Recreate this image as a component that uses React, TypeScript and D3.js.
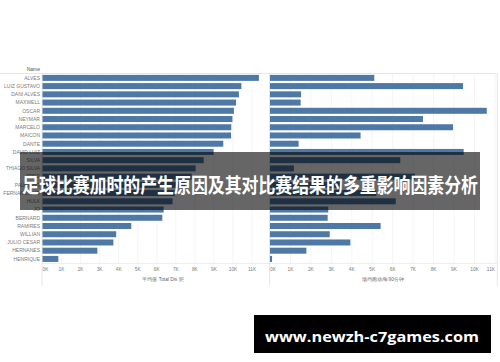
import React from "react";
import * as d3 from "d3";

const names = [
  "ALVES", "LUIZ GUSTAVO", "DANI ALVES", "MAXWELL", "OSCAR", "NEYMAR", "MARCELO",
  "MAICON", "DANTE", "DAVID LUIZ", "SILVA", "THIAGO SILVA", "FRED", "PAULINHO",
  "FERNANDINHO", "HULK", "JO", "BERNARD", "RAMIRES", "WILLIAN", "JULIO CESAR",
  "HERNANES", "HENRIQUE",
];
const totalDistance = [
  11.36, 10.44, 10.31, 10.16, 10.05, 9.97, 9.91, 9.9, 9.49, 8.98, 8.46, 8.04, 7.83,
  7.5, 6.94, 6.83, 6.36, 6.29, 4.66, 3.87, 3.72, 2.88, 0.83,
];
const per90Distance = [
  5.1, 9.44, 1.52, 1.5, 10.6, 7.48, 8.95, 4.43, 1.4, 9.47, 6.37, 1.17, 7.09, 3.5,
  5.2, 6.15, 2.85, 2.82, 5.41, 2.92, 3.93, 1.78, 0.1,
];
const tickValues = [0, 1, 2, 3, 4, 5, 6, 7, 8, 9, 10, 11];
const leftAxisTitle = "平均值 Total Dis 距";
const rightAxisTitle = "场均跑动/每90分钟";
const headerLabel = "Name";
const overlayTitle = "足球比赛加时的产生原因及其对比赛结果的多重影响因素分析";
const siteText = "www.newzh-c7games.com";

const W = 500;
const H = 362;
const BAR = "#4e79a7";
const GRID = "#ececec";
const LABEL = "#7a7a7a";

export default function App() {
  const y = d3.scaleBand<string>().domain(names).range([73.8, 263]).paddingInner(0.27).paddingOuter(0.13);
  const xl = d3.scaleLinear().domain([0, 1]).range([42.5, 61.55]);
  const xr = d3.scaleLinear().domain([0, 1]).range([270, 290.45]);
  const bh = y.bandwidth();
  const axisY = 263.5;

  return (
    <svg width={W} height={H} style={{ position: "absolute", left: 0, top: 0, background: "#fff" }}
      fontFamily="'Liberation Sans', Arial, sans-serif">
      <rect x={0} y={0} width={W} height={H} fill="#fff" />
      {/* header */}
      <text x={40} y={71} fontSize={5} textAnchor="end" fill="#555">{headerLabel}</text>
      <line x1={0} x2={497} y1={73.5} y2={73.5} stroke="#dcdcdc" strokeWidth={0.7} />
      {/* gridlines */}
      {tickValues.map((t) => (
        <line key={"gl" + t} x1={xl(t)} x2={xl(t)} y1={74} y2={axisY} stroke={GRID} strokeWidth={0.6} />
      ))}
      {tickValues.map((t) => (
        <line key={"gr" + t} x1={xr(t)} x2={xr(t)} y1={74} y2={axisY} stroke={GRID} strokeWidth={0.6} />
      ))}
      <line x1={497.3} x2={497.3} y1={73.5} y2={286} stroke="#dcdcdc" strokeWidth={0.7} />
      <line x1={42} x2={42} y1={73.5} y2={286} stroke="#dcdcdc" strokeWidth={0.7} />
      <line x1={269.5} x2={269.5} y1={73.5} y2={286} stroke="#dcdcdc" strokeWidth={0.7} />
      <line x1={42} x2={497} y1={axisY} y2={axisY} stroke="#e2e2e2" strokeWidth={0.6} />
      {/* row labels */}
      {names.map((n) => (
        <text key={"l" + n} x={40} y={(y(n) as number) + bh / 2 + 1.8} fontSize={5} textAnchor="end" fill={LABEL}>
          {n}
        </text>
      ))}
      {/* bars */}
      {names.map((n, i) => (
        <rect key={"bl" + n} x={xl(0)} y={y(n)} width={xl(totalDistance[i]) - xl(0)} height={bh} fill={BAR} />
      ))}
      {names.map((n, i) => (
        <rect key={"br" + n} x={xr(0)} y={y(n)} width={xr(per90Distance[i]) - xr(0)} height={bh} fill={BAR} />
      ))}
      {/* axes */}
      {tickValues.map((t) => (
        <text key={"tl" + t} x={t === 0 ? xl(t) + 3 : xl(t)} y={271} fontSize={4.8} textAnchor="middle" fill={LABEL}>
          {t + "K"}
        </text>
      ))}
      {tickValues.map((t) => (
        <text key={"tr" + t} x={t === 0 ? xr(t) + 3 : t === 11 ? xr(t) - 4 : xr(t)} y={271} fontSize={4.8} textAnchor="middle" fill={LABEL}>
          {t + "K"}
        </text>
      ))}
      <text x={163} y={281} fontSize={4.8} textAnchor="middle" fill="#666">{leftAxisTitle}</text>
      <text x={383} y={281} fontSize={4.8} textAnchor="middle" fill="#666">{rightAxisTitle}</text>
      {/* overlay band */}
      <rect x={20} y={152} width={460} height={58} fill="rgba(0,0,0,0.6)" />
      <text x={250} y={192.5} fontSize={20.5} fontWeight={700} textAnchor="middle" fill="#fff"
        fontFamily="'Noto Sans CJK SC', sans-serif" textLength={456} lengthAdjust="spacingAndGlyphs">
        {overlayTitle}
      </text>
      {/* site box */}
      <rect x={254} y={315} width={237} height={38} fill="#000" />
      <text x={372} y={342} fontSize={15} fontWeight={700} textAnchor="middle" fill="#fff"
        fontFamily="'Open Sans', 'DejaVu Sans', sans-serif" textLength={214} lengthAdjust="spacingAndGlyphs">
        {siteText}
      </text>
    </svg>
  );
}
